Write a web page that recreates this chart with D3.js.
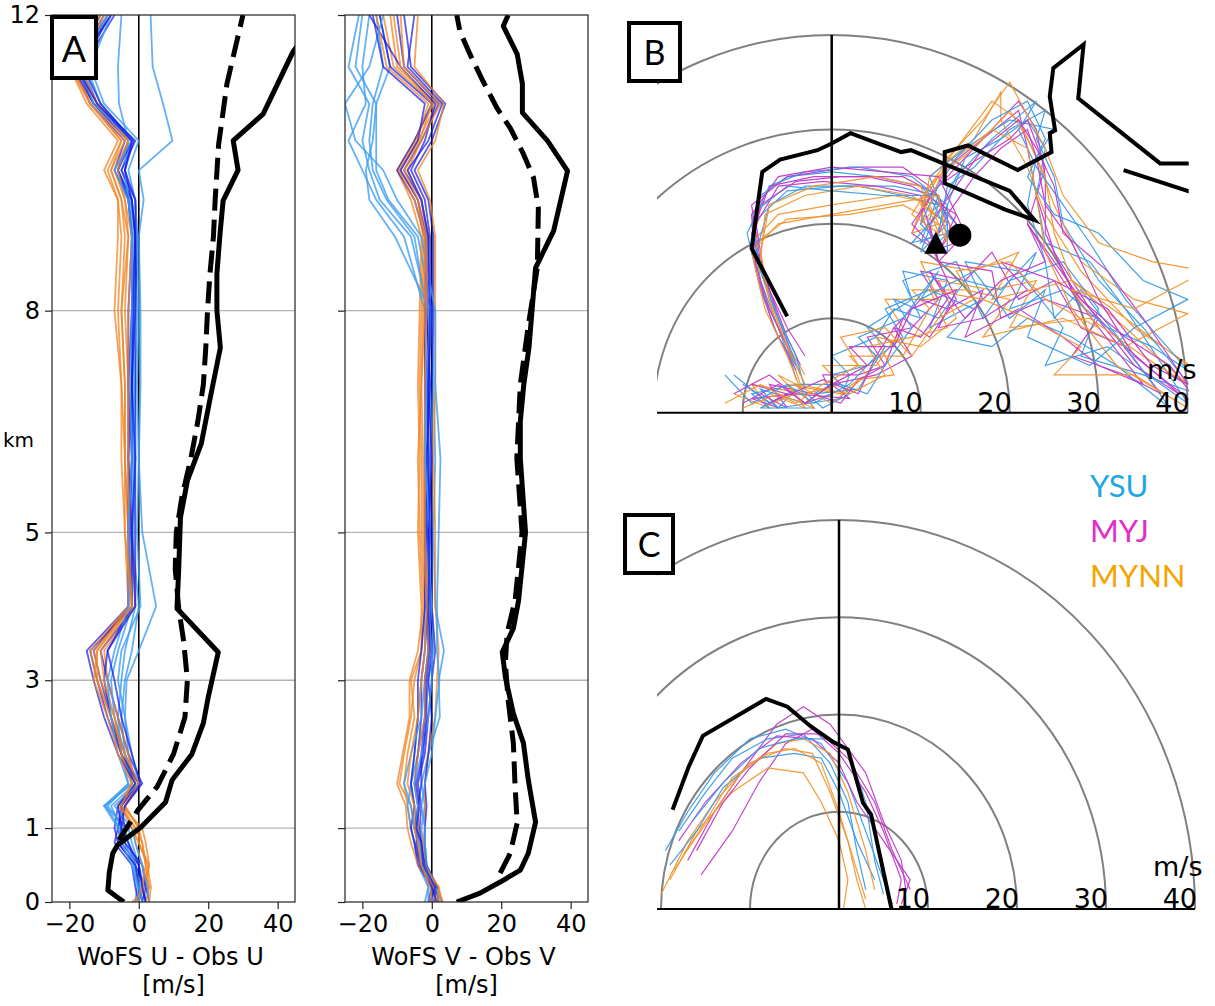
<!DOCTYPE html>
<html><head><meta charset="utf-8">
<script src="https://cdn.jsdelivr.net/npm/d3@7"></script>
<style>body{margin:0;background:#fff}</style>
</head><body><svg id="c" width="1215" height="1006" xmlns="http://www.w3.org/2000/svg"></svg>
<script>
// ---------------- DATA ----------------
const LEVELS = [0,0.2,0.5,0.8,1.0,1.3,1.6,2.0,2.5,3.0,3.4,4.0,5.0,6.0,7.0,8.0,9.0,9.5,9.9,10.3,10.8,11.3,12.0];
const HEIGHT_TICKS = [0,1,3,5,8,12];
const GRID_KM = [1,3,5,8];
const DIFF_TICKS = [-20,0,20,40];
const RING_SPEEDS = [10,20,30,40];

// U differences (WoFS - obs), per member, at LEVELS
const U_YSU = [
 [1.0,0.5,-1.0,-3.0,-4.0,-9.0,-3.0,-5.0,-6.0,-5.0,-4.0,-1.0,-1.5,-1.0,-1.0,-0.5,-1.0,-2.0,-5.0,-2.0,-11.0,-15.0,-9.0],
 [2.0,1.5,0.0,-2.0,-3.0,-10.0,-2.0,-4.0,-5.0,-4.0,-2.0,0.0,-2.0,-1.5,-2.0,-1.5,-1.0,-2.5,-6.0,-3.0,-12.0,-16.0,-10.0],
 [-1.0,-0.5,-1.5,-4.0,-5.0,-8.0,-1.0,-3.0,-4.0,-3.5,0.0,5.0,1.0,0.0,0.5,0.5,0.0,1.4,0.0,9.7,7.0,4.0,3.4],
 [0.0,0.0,-1.0,-3.0,-5.5,-9.5,-2.0,-4.0,-7.0,-8.0,-6.0,-2.0,-2.0,-1.0,-1.5,-1.0,-1.5,-3.0,-4.0,-3.0,-5.7,-6.0,-5.0],
 [3.0,2.5,1.0,-1.0,-2.0,-7.0,0.0,-2.0,-4.0,-6.0,-5.0,0.5,-0.5,0.0,-0.5,0.0,-0.5,-1.0,-3.0,0.0,-10.0,-14.0,-8.0],
 [1.0,0.0,-2.0,-5.0,-6.0,-10.0,-3.0,-6.0,-8.0,-9.0,-7.0,-3.0,-3.0,-2.0,-2.5,-2.0,-2.0,-3.0,-7.0,-2.0,-13.0,-17.0,-9.0]
];
const U_MYJ = [
 [1.0,2.0,-1.0,-6.0,-7.0,-6.0,0.0,-4.0,-8.0,-11.0,-13.0,-3.0,-2.5,-2.0,-3.0,-2.0,-2.0,-3.0,-7.0,-4.0,-14.0,-19.0,-10.0],
 [2.0,1.0,0.0,-5.0,-6.0,-5.0,-1.0,-5.0,-9.0,-12.0,-14.0,-2.0,-3.0,-2.0,-2.0,-1.5,-1.0,-2.0,-6.0,-3.0,-13.0,-18.0,-9.0],
 [0.0,-1.0,-2.0,-7.0,-6.0,-4.0,1.0,-3.0,-6.0,-9.0,-11.0,-1.0,-1.0,-1.0,-1.0,-1.0,-0.5,-1.0,-5.0,-1.0,-12.0,-17.0,-8.0],
 [3.0,2.0,1.0,-4.0,-4.0,-5.0,0.0,-5.0,-8.0,-10.0,-9.0,-2.0,-2.0,-3.0,-2.0,-2.0,-1.0,-2.0,-4.0,-1.5,-11.0,-16.0,-7.0],
 [1.0,0.0,-1.0,-6.0,-5.0,-6.0,-1.0,-6.0,-10.0,-13.0,-15.0,-3.0,-3.0,-3.0,-3.0,-3.0,-2.0,-3.0,-6.0,-2.0,-13.0,-19.0,-11.0],
 [2.0,1.0,0.0,-3.0,-5.0,-4.0,0.5,-2.0,-5.0,-7.0,-9.0,-1.0,-2.0,-1.0,-2.0,-1.0,-1.0,-1.0,-4.0,-2.0,-12.0,-18.0,-8.0]
];
const U_MYNN = [
 [-2.0,3.0,2.0,1.0,-1.0,-5.0,-1.0,-4.0,-7.0,-11.0,-13.0,-2.0,-3.0,-4.0,-4.0,-5.0,-4.0,-5.0,-8.0,-4.0,-13.0,-20.0,-11.0],
 [-1.0,2.0,3.0,0.0,0.0,-4.0,0.0,-5.0,-8.0,-12.0,-12.0,-3.0,-4.0,-5.0,-5.0,-6.0,-5.0,-6.0,-9.0,-5.0,-14.0,-19.0,-12.0],
 [0.0,1.0,3.0,2.0,1.0,-5.0,-1.0,-3.0,-6.0,-9.0,-10.0,-1.0,-2.0,-3.0,-3.0,-4.0,-3.0,-4.0,-7.0,-3.0,-12.0,-17.0,-9.0],
 [2.0,3.0,1.0,-1.0,-1.0,-6.0,-2.0,-5.0,-7.0,-10.0,-11.0,-2.0,-3.0,-4.0,-5.0,-7.0,-6.0,-6.0,-10.0,-6.0,-15.0,-20.0,-12.0],
 [-1.0,1.0,2.0,1.0,0.0,-4.0,0.0,-4.0,-8.0,-12.0,-14.0,-3.0,-3.0,-3.0,-3.0,-3.0,-2.0,-4.0,-6.0,-3.0,-12.0,-18.0,-10.0],
 [3.0,3.5,2.5,0.0,-2.0,-5.0,-2.0,-6.0,-9.0,-13.0,-12.0,-2.0,-4.0,-4.0,-4.0,-5.0,-3.0,-5.0,-8.0,-5.0,-14.0,-20.0,-11.0]
];
// V differences
const V_YSU = [
 [1.0,0.5,-2.0,-3.0,-4.0,-5.0,-6.0,-4.0,-2.0,-1.0,0.5,0.0,-1.0,-1.5,-1.0,-1.5,-5.0,-13.0,-17.0,-18.0,-17.0,-14.0,-16.0],
 [2.0,1.5,-1.5,-2.5,-3.0,-2.0,-3.0,-1.0,2.3,2.0,3.5,1.0,0.5,1.0,0.5,0.0,-4.0,-12.5,-16.0,-16.0,-16.0,-12.0,-15.0],
 [-2.0,-1.0,-4.0,-5.0,-6.0,-7.0,-6.0,-5.0,-4.0,-3.0,-2.0,-2.0,-2.0,-1.0,-2.0,-2.0,-8.0,-16.0,-20.0,-24.0,-19.0,-20.0,-18.0],
 [0.0,0.0,-3.0,-4.0,-5.0,-6.0,-8.0,-6.0,-3.0,-2.0,-1.0,0.0,-1.5,0.0,-0.5,-1.0,-6.0,-15.0,-18.0,-20.0,-18.0,-24.0,-21.0],
 [3.0,1.0,-1.5,-2.0,-2.0,-3.0,-2.0,0.0,1.0,2.2,1.5,1.5,2.0,2.5,1.0,1.0,-3.0,-10.0,-14.0,-22.0,-25.0,-18.0,-14.0],
 [-1.0,-1.0,-2.5,-3.5,-4.5,-4.0,-5.0,-3.0,-1.0,0.0,0.0,-1.0,-0.5,-2.0,-1.5,-0.5,-10.6,-18.0,-19.0,-17.0,-16.0,-22.0,-20.0]
];
const V_MYJ = [
 [1.0,0.5,-3.0,-4.0,-5.0,-4.0,-5.0,-4.0,-3.0,-3.0,-2.0,-1.0,-1.0,-1.0,-1.5,-1.0,-1.0,-3.0,-8.0,-3.0,2.0,-8.0,-10.0],
 [2.0,1.0,-2.0,-3.0,-3.5,-3.0,-4.0,-2.0,-1.0,0.0,1.0,0.0,0.0,-0.5,0.0,0.5,0.5,-1.0,-5.0,0.0,3.9,-6.0,-8.0],
 [-1.0,0.0,-4.0,-5.0,-6.0,-5.0,-6.0,-5.0,-4.0,-4.0,-3.0,-2.0,-2.0,-2.0,-2.0,-2.0,-2.0,-5.0,-10.0,-5.0,0.0,-12.0,-15.0],
 [0.5,1.5,-1.5,-2.0,-2.0,-1.5,-2.0,-1.0,0.0,-1.0,0.0,-0.5,-1.0,0.0,-1.0,0.0,-0.5,-2.0,-6.0,-2.0,1.0,-9.0,-18.0],
 [1.5,0.0,-3.5,-4.5,-4.0,-4.0,-3.0,-3.0,-2.0,-2.0,-1.0,-1.5,-1.5,-1.5,-0.5,-1.5,-1.5,-4.0,-9.0,-4.0,-2.0,-14.0,-17.0],
 [-0.5,1.0,-2.5,-3.0,-4.5,-3.5,-4.5,-2.5,-1.5,-1.5,-0.5,-1.0,-0.5,-1.0,-1.0,-0.5,-1.0,-3.0,-7.0,-1.0,3.0,-7.0,-5.0]
];
const V_MYNN = [
 [3.0,2.0,-2.0,-4.0,-5.0,-6.0,-9.3,-8.0,-6.0,-5.0,-3.0,-2.0,-3.0,-3.0,-3.5,-3.0,-2.5,-4.0,-9.0,-4.0,1.5,-10.0,-12.0],
 [2.0,1.0,-3.0,-5.0,-6.0,-7.0,-8.0,-7.0,-5.0,-6.0,-3.0,-3.0,-4.0,-3.5,-4.0,-3.5,-3.0,-6.0,-10.0,-5.0,0.5,-11.0,-14.0],
 [3.2,1.5,-1.5,-2.5,-2.0,-2.0,-2.0,-1.0,1.0,1.5,2.0,1.0,1.0,0.5,1.0,1.0,1.0,-0.5,-4.0,1.0,3.5,-5.0,-4.0],
 [1.0,0.5,-4.0,-6.0,-7.0,-7.5,-10.0,-8.4,-6.4,-6.4,-4.0,-2.5,-3.5,-4.0,-3.0,-2.5,-2.0,-5.0,-9.5,-4.5,-1.0,-13.0,-16.0],
 [2.5,2.0,-2.5,-3.5,-4.0,-4.0,-5.0,-4.0,-2.0,-2.0,-1.0,-1.0,-2.0,-2.0,-2.0,-1.5,-1.5,-3.0,-7.0,-3.0,2.5,-8.0,-9.0],
 [0.0,-0.5,-3.0,-4.0,-5.0,-5.0,-7.0,-6.0,-4.0,-3.0,-2.0,-1.5,-2.5,-2.5,-3.0,-2.0,-2.0,-4.0,-8.0,-3.5,0.0,-9.0,-11.0]
];
// Reference (black) profiles: [height km, value m/s]
const U_REF_SOLID = [[0,-4.3],[0.16,-8.9],[0.4,-8.5],[0.66,-7.5],[0.77,-6.1],[1.01,0.6],[1.35,7.7],[1.65,9.6],[2.0,15.3],[2.42,18.6],[2.77,20],[3.38,22.9],[3.97,11],[4.5,11.5],[5.2,12],[5.7,14],[6.2,18],[6.8,20.5],[7.5,23.5],[8.0,22.5],[8.5,22.5],[9.04,23.4],[9.49,24.3],[9.9,28.6],[10.3,27.2],[10.66,35.8],[11.5,44.4],[12,52]];
const U_REF_DASHED = [[0.84,-5.7],[1.24,-0.3],[1.56,5.3],[2.0,10],[2.5,13.3],[3.0,14],[3.54,12.9],[3.97,11.5],[4.5,10.5],[5.0,10.8],[5.5,12.5],[6.0,15],[6.5,17],[7.0,18.6],[7.5,19.3],[8.0,19.8],[8.5,20.5],[9.0,21.5],[9.5,22],[10.25,23],[11.07,25.4],[12,30]];
const V_REF_SOLID = [[0,7.2],[0.12,13.9],[0.27,19.7],[0.43,25.5],[0.66,27.8],[1.08,29.9],[1.65,27.8],[2.15,26.4],[2.55,23.5],[3.04,21.2],[3.38,20.3],[3.7,23.5],[4.08,25],[5.0,27],[6.0,25.5],[6.5,25.5],[7.0,26.5],[7.5,28],[7.73,28.4],[8.58,29.9],[9.08,35.1],[9.89,39.1],[10.3,33.3],[10.68,26.1],[11.07,26.1],[11.47,24.6],[11.85,20.6],[12,22]];
const V_REF_DASHED = [[0.39,19.7],[0.66,22.6],[1.07,24.6],[1.56,24],[2.15,23.5],[2.73,22],[3.23,21.2],[3.64,21.7],[4.08,24],[5.0,26],[6.0,24.5],[7.0,25.5],[7.8,27.8],[8.58,30.4],[9.39,30.7],[9.8,29.3],[10.12,26.4],[10.47,22.6],[10.74,18.8],[11.1,14.8],[11.47,11],[11.78,8.1],[12,7.2]];

// Hodograph B traces: [u, v] m/s
const B_YSU = [
 [[-10,3],[-6,0.5],[-8,2.5],[-3,1],[0,3],[-2,2],[3,2.5],[6,7],[4,9],[9,12],[8,15],[13,14],[11,9],[17,12],[15,16],[21,15],[26,9],[24,5],[31,7],[40,1],[33,11],[29,16],[24,18],[23,23],[24,28],[22,31],[19,29],[15,27],[13,22],[11,17],[14,20],[10,24],[5,25],[0,25.5],[-5,25],[-8,23],[-9,18],[-7.5,12],[-5,7],[-4,3.5]],
 [[-11,4],[-7,1],[-4,2.5],[-6,0.5],[1,1.5],[2,4],[0,6],[5,8],[7,11],[10,10],[8,14],[14,16],[17,10],[20,14],[26,16],[30,11],[28,6],[35,4],[41,2],[35,9],[30,14],[26,20],[25,25],[23,29],[24,32],[20,30],[16,26],[13,24],[12,19],[10,18],[12,23],[7,24],[1,24],[-5,23.5],[-9,20],[-8,14],[-6,9],[-4.5,5]],
 [[-7,0.5],[-9,2],[-4,3],[-1,0.5],[2,2],[0,4],[4,5],[8,8],[6,11],[11,13],[16,11],[13,8],[18,7],[22,10],[27,8],[32,5],[38,0.5],[33,7],[28,13],[25,10],[24,16],[22,22],[23,27],[25,30],[20,31],[15,28],[11,25],[13,20],[10,17],[12,22],[8,23],[3,24],[-3,24],[-7,22],[-8.5,17],[-6.5,11],[-4,6],[-3,2.5]],
 [[-5,2],[-8,0.5],[-2,0.5],[-4,3],[1,3],[4,2],[6,5],[9,9],[7,12],[12,10],[15,14],[19,13],[23,17],[20,11],[26,13],[31,9],[36,7],[40,4.5],[33,12],[29,18],[26,22],[23,26],[21,30],[23,33],[18,29],[14,25],[12,21],[9,18],[13,19],[11,23],[6,23],[0,23.5],[-5,24],[-9,21],[-8,15],[-6,10],[-3.5,4]],
 [[-12,4],[-9,1],[-5,3],[-2,1],[2,3],[5,6],[3,8],[8,10],[12,15],[10,12],[16,15],[20,10],[24,13],[22,8],[29,5],[34,9],[40,12],[35,14],[30,19],[25,21],[22,25],[24,29],[22,33],[18,31],[14,27],[12,24],[10,20],[13,17],[13,22],[9,25],[3,26],[-3,25.5],[-7,24],[-9.5,19],[-8,13],[-6,8],[-4,5]]
];
const B_MYJ = [
 [[-8,2],[-5,0.5],[-7,3],[-2,2],[1,1],[3,3.5],[6,5],[4,8],[9,9],[12,12],[10,15],[15,14],[18,17],[21,12],[25,14],[28,9],[33,7],[39,2],[34,5],[29,11],[25,17],[23,23],[22,28],[21,32],[17,29],[13,26],[10,21],[12,17],[14,20],[11,24],[8,26],[2,26],[-5,25],[-9,22],[-8,16],[-6,10],[-4,5]],
 [[-10,1],[-6,3],[-3,1],[0,2],[-1,4],[3,4],[6,5],[8,10],[11,8],[14,12],[12,16],[18,15],[19,10],[24,12],[30,10],[27,6],[33,4],[37,2],[32,8],[27,13],[24,19],[24,25],[23,30],[21,33],[18,30],[14,26],[11,23],[9,19],[12,17],[14,21],[9,24],[4,25],[-2,25],[-7,24],[-9,19],[-7,13],[-5,8],[-3.5,5]],
 [[-6,0.5],[-9,1.5],[-4,2],[2,1.5],[0,3],[5,4],[9,6],[7,9],[10,12],[13,11],[17,13],[15,8],[21,11],[26,8],[30,5],[35,3],[30,9],[26,14],[22,20],[24,26],[22,31],[20,29],[15,26],[12,24],[9,20],[11,18],[12,16],[10,23],[5,24],[-1,24.5],[-6,24],[-8.5,20],[-7.5,14],[-5,9],[-3,6]],
 [[-9,3],[-5,2],[-7,1],[-1,3.5],[3,2],[5,6],[7,9],[10,8],[13,12],[11,15],[15,10],[19,14],[24,16],[22,20],[28,12],[33,8],[38,5],[42,0],[34,6],[30,12],[27,18],[24,22],[23,27],[22,30],[19,28],[16,25],[13,21],[11,17],[14,18],[12,23],[8,25],[1,25],[-4,24.5],[-8,22],[-9,17],[-7,11],[-4.5,6]],
 [[-11,2],[-7,4],[-3,1],[0,3],[4,5],[2,7],[7,7],[9,11],[14,13],[12,9],[17,10],[22,13],[19,16],[25,14],[31,11],[36,5],[40,3],[35,10],[31,15],[26,19],[25,24],[23,28],[21,31],[17,28],[14,24],[11,20],[12,16],[15,19],[12,25],[6,25.5],[0,26],[-6,25],[-9,21],[-8.5,15],[-6.5,9],[-4,4.5]]
];
const B_MYNN = [
 [[-11,2],[-7,0.5],[-9,3],[-3,2],[1,3],[-1,5],[5,5],[8,9],[6,12],[12,12],[10,16],[16,15],[21,17],[18,12],[27,14],[33,10],[40,5],[45,2],[34,9],[28,15],[24,21],[22,26],[19,31],[19,34],[16,29],[11,25],[10,20],[12,22],[7,23],[0,22],[-6,21],[-9,18],[-7,12],[-5,7],[-3.5,3]],
 [[-8,0.5],[-4,2],[-6,4],[0,1],[4,4],[2,6],[8,6],[11,11],[9,13],[15,13],[20,12],[17,8],[26,10],[33,7],[40,10.5],[34,12],[28,16],[25,22],[23,27],[21,31],[18,33],[14,28],[11,24],[9,19],[12,20],[8,22],[2,21],[-5,20.5],[-8.5,18],[-8,13],[-5.5,8],[-3,4]],
 [[-7,2],[-3,0.5],[-5,3],[1,2],[3,3.5],[7,4],[5,8],[10,7],[14,10],[12,14],[18,13],[23,14],[20,9],[29,10],[35,6],[40,3],[33,9],[27,14],[25,19],[24,25],[22,29],[20,32],[16,28],[12,25],[10,22],[13,20],[9,23],[3,24],[-3,23],[-7.5,21],[-8,16],[-6.5,10],[-4,5]],
 [[-10,0.5],[-6,2],[-2,0.5],[-4,3],[2,2],[6,4],[4,7],[9,8],[13,9],[11,13],[17,12],[22,10],[28,7],[25,4],[34,4],[40,0.5],[32,5],[27,11],[24,17],[23,23],[22,28],[18,30],[14,27],[11,24],[9,21],[12,19],[10,24],[5,25],[-2,24],[-7,22],[-8,17],[-7,12],[-5,7],[-3,3]],
 [[-12,1],[-8,3],[-4,1],[-1,3],[3,5],[1,8],[6,9],[9,6],[12,10],[16,12],[14,15],[20,16],[24,12],[30,9],[27,13],[34,11],[42,15],[36,16],[30,18],[26,23],[24,28],[20,35],[17,31],[13,27],[11,22],[13,18],[12,23],[6,22],[0,21],[-6,20],[-9,17],[-7.5,11],[-5,6],[-3.5,2.5]]
];
const B_OBS = [[-5.0,10.2],[-9.0,17.4],[-7.8,25.5],[-5.8,26.8],[-1.6,27.8],[0,28.5],[2.1,29.6],[7.8,27.6],[8.9,27.8],[20.0,23.5],[22.8,20.4],[19.5,21.5],[12.7,24.3],[12.7,27.6],[15.3,28.3],[20.9,25.7],[24.7,27.6],[24.5,29.6],[25.1,29.9],[24.5,33.5],[24.9,36.5],[28.3,39.0],[27.7,33.3],[36.9,26.4],[48,26.4],[48,21],[32.8,25.7]];
const B_TRIANGLE = [11.7,17.9];
const B_CIRCLE = [14.4,18.8];

// Hodograph C traces
const C_YSU = [
 [[-19.5,6],[-17,10],[-14,14],[-10,17.5],[-6,18.5],[-2,17],[1,13],[3,8],[5,3],[6,0.5]],
 [[-18,8],[-15,12],[-12,15.5],[-8,17.5],[-4,18],[-1,15],[1,11],[2,6],[3,2]],
 [[-19,4.5],[-16,8],[-13,12.5],[-9,15.5],[-5,16],[-2,15.5],[0,12],[2,7],[4,3]],
 [[-16.5,9],[-13,13],[-9,16.5],[-5,17.5],[-1,17.5],[1,16.5],[3,11],[4,5],[5,1.5]]
];
const C_MYJ = [
 [[-17,5],[-14,10],[-11,14],[-7,19],[-4,20.8],[-1,19],[3,14],[5,9],[7,5],[7.5,2]],
 [[-15.5,3.5],[-12,8],[-9,13],[-6,17],[-3,18.5],[0,16],[3,12],[5,8],[7,3],[6.5,0.5]],
 [[-18,7],[-15,11],[-11,15],[-7,17.8],[-3,17.5],[0,15],[2,11],[5,7],[8,3],[7,0.5]],
 [[-16,6],[-13,11],[-10,14.5],[-6,18],[-2,18],[1,15.5],[4,11],[6,6],[8,2]]
];
const C_MYNN = [
 [[-20,1.5],[-17,7],[-14,11],[-10,15],[-6,16.5],[-3,16],[-1,12],[1,7],[2,3],[3,0]],
 [[-19,3],[-16,8],[-12,12],[-8,14.5],[-4,14],[-2,11],[0,7],[1,3],[0.5,0]],
 [[-17.5,5.5],[-14,10],[-11,14],[-7,17],[-4,17.5],[-1,16],[1,12],[3,6],[4,2]],
 [[-18.5,4],[-15,9],[-12,13.5],[-8,16],[-5,16.5],[-2,15],[0,10],[2,4],[3,1]]
];
const C_OBS = [[5.9,0],[3.6,9.7],[2.7,10.9],[1.0,16.4],[-0.7,17.2],[-3.2,18.8],[-5.8,20.8],[-8.2,21.6],[-15.3,17.8],[-16.9,14.6],[-18.7,10.2]];

const LEGEND = ["YSU","MYJ","MYNN"];

// ---------------- DRAW ----------------
const svg = d3.select("#c");
const defs = svg.append("defs");
const TICKFONT = "'DejaVu Sans', sans-serif";
const LABFONT = "Lato, 'Open Sans', sans-serif";

const yH = d3.scaleLinear().domain([0,12]).range([902,15]);

function profilePanel(x0, x1, sets, solid, dashed, showLabels, title, id) {
  const x = d3.scaleLinear().domain([-25,45]).range([x0,x1]);
  const g = svg.append("g");
  defs.append("clipPath").attr("id",id).append("rect")
    .attr("x",x0).attr("y",15).attr("width",x1-x0).attr("height",887);
  g.selectAll(".grid").data(GRID_KM).join("line")
    .attr("x1",x0).attr("x2",x1).attr("y1",d=>yH(d)).attr("y2",d=>yH(d))
    .attr("stroke","#b3b3b3").attr("stroke-width",1.3);
  g.append("line").attr("x1",x(0)).attr("x2",x(0)).attr("y1",15).attr("y2",902)
    .attr("stroke","#000").attr("stroke-width",1.6);
  const cg = g.append("g").attr("clip-path",`url(#${id})`);
  const lineM = d3.line().x(d=>x(d[1])).y(d=>yH(d[0]));
  const n = sets[0].data.length;
  for (let i=0;i<n;i++) {
    sets.forEach(s=>{
      const pts = LEVELS.map((h,k)=>[h, s.data[i][k]]);
      cg.append("path").attr("d",lineM(pts)).attr("fill","none")
        .attr("stroke",s.color).attr("stroke-opacity",s.op).attr("stroke-width",1.8);
    });
  }
  const lineR = d3.line().x(d=>x(d[1])).y(d=>yH(d[0]));
  cg.append("path").attr("d",lineR(solid)).attr("fill","none").attr("stroke","#000")
    .attr("stroke-width",5).attr("stroke-linejoin","round");
  cg.append("path").attr("d",lineR(dashed)).attr("fill","none").attr("stroke","#000")
    .attr("stroke-width",5).attr("stroke-dasharray","22,9");
  g.append("rect").attr("x",x0).attr("y",15).attr("width",x1-x0).attr("height",887)
    .attr("fill","none").attr("stroke","#222").attr("stroke-width",1.2);
  const ax = g.append("g").attr("transform","translate(0,902)")
    .call(d3.axisBottom(x).tickValues(DIFF_TICKS).tickSize(7).tickPadding(6).tickFormat(d3.format("d")));
  ax.select(".domain").remove();
  ax.selectAll("text").attr("font-size",24).attr("font-family",TICKFONT).attr("fill","#000");
  ax.selectAll("line").attr("stroke","#222").attr("stroke-width",1.2);
  const ay = g.append("g").attr("transform",`translate(${x0},0)`)
    .call(d3.axisLeft(yH).tickValues(HEIGHT_TICKS).tickSize(7).tickPadding(5)
      .tickFormat(showLabels ? d3.format("d") : ""));
  ay.select(".domain").remove();
  ay.selectAll("text").attr("font-size",24).attr("font-family",TICKFONT).attr("fill","#000");
  ay.selectAll("line").attr("stroke","#222").attr("stroke-width",1.2);
  const cx = (x0+x1)/2;
  g.append("text").attr("x",cx-3).attr("y",965).attr("text-anchor","middle")
    .attr("font-size",24).attr("font-family",TICKFONT).text(title);
  g.append("text").attr("x",cx).attr("y",993).attr("text-anchor","middle")
    .attr("font-size",24).attr("font-family",TICKFONT).text("[m/s]");
}

const COL_A = {YSU:"#3d9df2", MYJ:"#1414e6", MYNN:"#f08424"};
profilePanel(52,295,[
  {data:U_YSU,color:COL_A.YSU,op:0.8},
  {data:U_MYJ,color:COL_A.MYJ,op:0.7},
  {data:U_MYNN,color:COL_A.MYNN,op:0.75}],
  U_REF_SOLID,U_REF_DASHED,true,"WoFS U - Obs U","clipU");
profilePanel(345,588,[
  {data:V_YSU,color:COL_A.YSU,op:0.8},
  {data:V_MYJ,color:COL_A.MYJ,op:0.7},
  {data:V_MYNN,color:COL_A.MYNN,op:0.75}],
  V_REF_SOLID,V_REF_DASHED,false,"WoFS V - Obs V","clipV");

svg.append("text").attr("x",3).attr("y",447).attr("font-size",20)
  .attr("font-family",TICKFONT).text("km");

function labelBox(x,y,w,h,txt,fs,tx,ty){
  svg.append("rect").attr("x",x).attr("y",y).attr("width",w).attr("height",h)
    .attr("fill","#fff").attr("stroke","#000").attr("stroke-width",4);
  svg.append("text").attr("x",tx).attr("y",ty).attr("text-anchor","middle")
    .attr("font-size",fs).attr("font-family",LABFONT).text(txt);
}
labelBox(52,17,44,61,"A",36,74,62);

const HCOL = {YSU:"#3a9be8", MYJ:"#c23cc6", MYNN:"#f2952e"};

function hodo(cx0, cy0, xMax, yTop, xLeft, traces, obs, id, mps, markers) {
  const x = d3.scaleLinear().domain([0,40]).range([cx0,xMax]);
  const y = d3.scaleLinear().domain([0,40]).range([cy0,yTop]);
  defs.append("clipPath").attr("id",id).append("rect")
    .attr("x",xLeft).attr("y",yTop-2).attr("width",xMax+1-xLeft).attr("height",cy0-yTop+2);
  const g = svg.append("g");
  const cg = g.append("g").attr("clip-path",`url(#${id})`);
  cg.selectAll(".ring").data(RING_SPEEDS).join("ellipse")
    .attr("cx",x(0)).attr("cy",y(0)).attr("rx",d=>x(d)-x(0)).attr("ry",d=>y(0)-y(d))
    .attr("fill","none").attr("stroke","#808080").attr("stroke-width",2);
  const ln = d3.line().x(d=>x(d[0])).y(d=>y(d[1]));
  const nT = traces[0].data.length;
  for (let i=0;i<nT;i++) traces.forEach(t=>{
    cg.append("path").attr("d",ln(t.data[i])).attr("fill","none")
      .attr("stroke",t.color).attr("stroke-width",1.2).attr("stroke-opacity",0.95);
  });
  g.append("line").attr("x1",x(0)).attr("x2",x(0)).attr("y1",yTop).attr("y2",cy0)
    .attr("stroke","#000").attr("stroke-width",2.5);
  cg.append("path").attr("d",ln(obs)).attr("fill","none").attr("stroke","#000")
    .attr("stroke-width",4).attr("stroke-linejoin","miter");
  if (markers) markers(g,x,y);
  g.append("line").attr("x1",xLeft).attr("x2",xMax).attr("y1",cy0).attr("y2",cy0)
    .attr("stroke","#000").attr("stroke-width",2);
  g.selectAll(".rl").data(RING_SPEEDS).join("text")
    .attr("x",d=>x(d)+2).attr("y",cy0-1).attr("text-anchor","end")
    .attr("font-size",27).attr("font-family",TICKFONT).text(d=>d);
  g.append("text").attr("x",mps[0]).attr("y",mps[1]).attr("font-size",27)
    .attr("font-family",TICKFONT).text("m/s");
}

hodo(831.7,412.7,1187.7,35,657,[
  {data:B_YSU,color:HCOL.YSU},{data:B_MYJ,color:HCOL.MYJ},{data:B_MYNN,color:HCOL.MYNN}],
  B_OBS,"clipB",[1147,379],(g,x,y)=>{
    const tx=x(B_TRIANGLE[0]), ty=y(B_TRIANGLE[1]);
    g.append("path").attr("d",`M${tx-11.5},${ty+10} L${tx+11.5},${ty+10} L${tx},${ty-12} Z`).attr("fill","#000");
    g.append("circle").attr("cx",x(B_CIRCLE[0])).attr("cy",y(B_CIRCLE[1])).attr("r",11.5).attr("fill","#000");
  });
labelBox(629,23,51,58,"B",34,654.5,65);

hodo(839,909,1195,520,657,[
  {data:C_YSU,color:HCOL.YSU},{data:C_MYJ,color:HCOL.MYJ},{data:C_MYNN,color:HCOL.MYNN}],
  C_OBS,"clipC",[1153,876],null);
labelBox(625,515,48,58,"C",34,649,557);

const LEGCOL = ["#1ea7e4","#e22ec6","#f5a400"];
svg.selectAll(".leg").data(LEGEND).join("text")
  .attr("x",1090).attr("y",(d,i)=>497+i*45).attr("font-size",31)
  .attr("font-family",LABFONT).attr("fill",(d,i)=>LEGCOL[i]).text(d=>d);
</script></body></html>
